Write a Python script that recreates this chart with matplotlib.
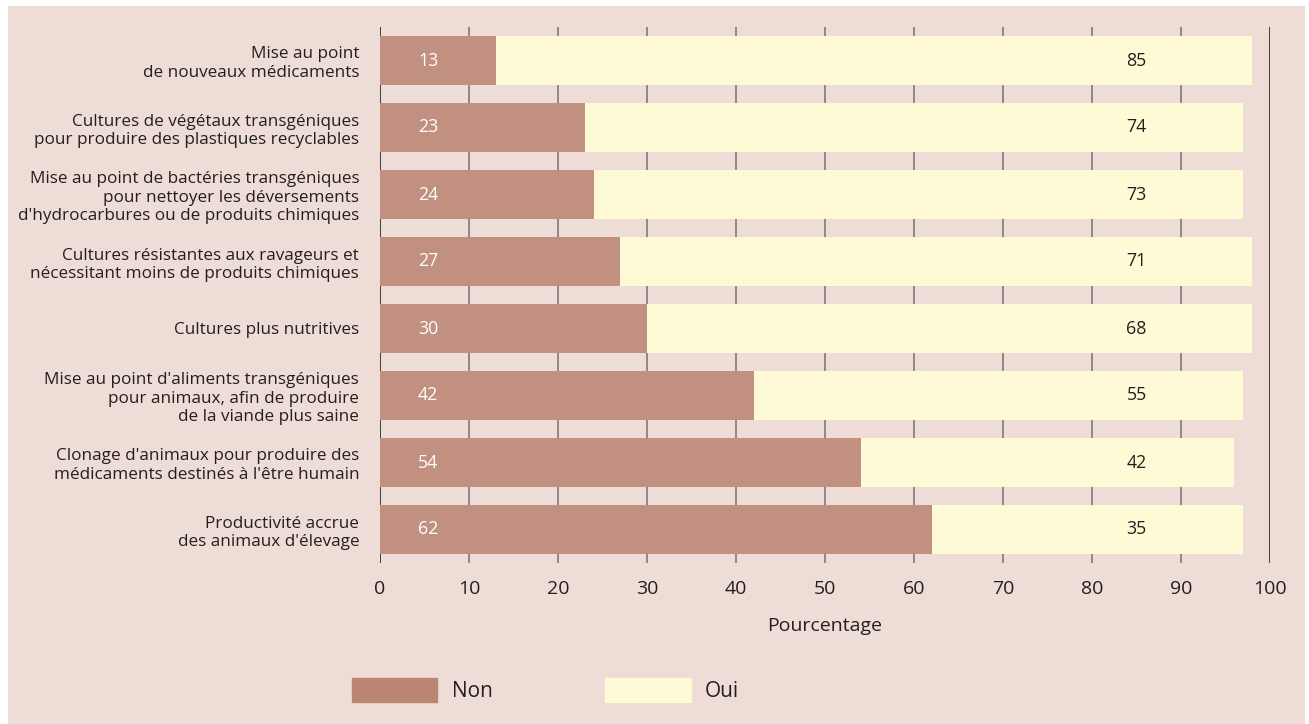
import matplotlib.pyplot as plt
import matplotlib.patches as mpatches

categories = [
    "Mise au point\nde nouveaux médicaments",
    "Cultures de végétaux transgéniques\npour produire des plastiques recyclables",
    "Mise au point de bactéries transgéniques\npour nettoyer les déversements\nd'hydrocarbures ou de produits chimiques",
    "Cultures résistantes aux ravageurs et\nnécessitant moins de produits chimiques",
    "Cultures plus nutritives",
    "Mise au point d'aliments transgéniques\npour animaux, afin de produire\nde la viande plus saine",
    "Clonage d'animaux pour produire des\nmédicaments destinés à l'être humain",
    "Productivité accrue\ndes animaux d'élevage",
]
non = [13, 23, 24, 27, 30, 42, 54, 62]
oui = [85, 74, 73, 71, 68, 55, 42, 35]
xticks = [0, 10, 20, 30, 40, 50, 60, 70, 80, 90, 100]

bg = '#EEDDD7'
c_non = '#C19080'
c_oui = '#FFFAD6'
txt = '#231F20'

plt.rcParams['font.family'] = ['Open Sans', 'DejaVu Sans']

fig = plt.figure(figsize=(13.09, 7.24), dpi=100)
fig.patch.set_facecolor('white')
# pink panel behind everything
fig.patches.append(mpatches.Rectangle((8 / 1309, 0), (1305 - 8) / 1309, 1 - 6 / 724,
                                      transform=fig.transFigure, facecolor=bg,
                                      edgecolor='none', zorder=-10))

ax = fig.add_axes([380 / 1309, 1 - 563 / 724, (1270 - 380) / 1309, (563 - 27) / 724])
ax.set_zorder(1)
ax.patch.set_alpha(0)

y = list(range(len(categories)))
bars_non = ax.barh(y, non, height=0.72, color=c_non, zorder=3)
bars_oui = ax.barh(y, oui, left=non, height=0.72, color=c_oui, zorder=3)

for i in y:
    ax.text(5.4, i, str(non[i]), color='white', fontsize=12.8, ha='center', va='center', zorder=4)
    ax.text(85, i, str(oui[i]), color=txt, fontsize=12.8, ha='center', va='center', zorder=4)

for xv in xticks:
    col = '#222222' if xv in (0, 100) else '#7a7a7a'
    ax.axvline(xv, color=col, linewidth=1.2, zorder=1)

ax.set_xlim(0, 100)
ax.set_ylim(len(categories) - 0.5, -0.5)
ax.set_xticks(xticks)
ax.set_yticks(y)
ax.set_yticklabels(categories, fontsize=12.3, color=txt)
ax.tick_params(axis='both', length=0)
ax.tick_params(axis='y', pad=15)
ax.tick_params(axis='x', pad=12, labelsize=14, labelcolor=txt)
for s in ax.spines.values():
    s.set_visible(False)

ax.set_xlabel('Pourcentage', fontsize=14, color=txt, labelpad=14)

leg_non = mpatches.Patch(color='#BC8473', label='Non')
leg_oui = mpatches.Patch(color=c_oui, label='Oui')
fig.legend(handles=[leg_non, leg_oui], loc='center left',
           bbox_to_anchor=(333 / 1309, 1 - 690 / 724), ncol=2, frameon=False,
           fontsize=15, handlelength=4.1, handleheight=1.45, handletextpad=0.7,
           columnspacing=5.4, labelcolor=txt)

fig.savefig('out.png', dpi=100, facecolor=fig.get_facecolor())
